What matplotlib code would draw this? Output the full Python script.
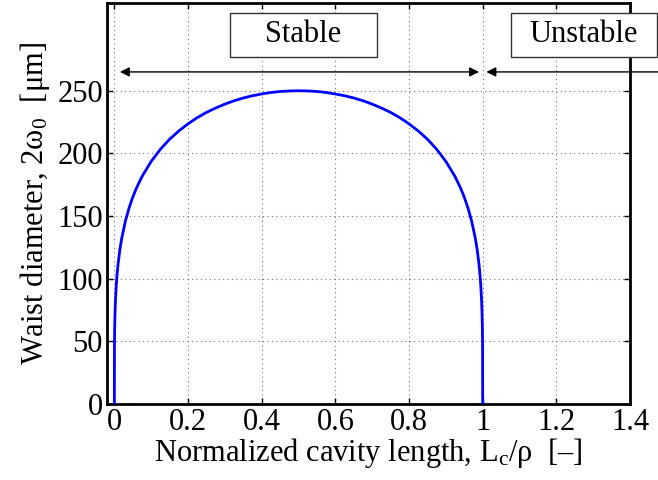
import matplotlib
matplotlib.use('Agg')
import matplotlib.pyplot as plt
from matplotlib.patches import Rectangle

plt.rcParams['font.family'] = ['Liberation Serif', 'DejaVu Serif']
plt.rcParams['mathtext.fontset'] = 'custom'
plt.rcParams['mathtext.rm'] = 'Liberation Serif'
plt.rcParams['mathtext.it'] = 'Liberation Serif:italic'

# normalized cavity length vs. waist diameter (um)
lc_norm = [0.0, 0.0002, 0.0005, 0.001, 0.002, 0.003, 0.005, 0.007, 0.01,
           0.015, 0.02, 0.03, 0.04, 0.05, 0.06, 0.075, 0.1, 0.125, 0.15,
           0.175, 0.2, 0.225, 0.25, 0.275, 0.3, 0.325, 0.35, 0.375, 0.4,
           0.425, 0.45, 0.475, 0.5, 0.525, 0.55, 0.575, 0.6, 0.625, 0.65,
           0.675, 0.7, 0.725, 0.75, 0.775, 0.8, 0.825, 0.85, 0.875, 0.9,
           0.925, 0.94, 0.95, 0.96, 0.97, 0.98, 0.985, 0.99, 0.993, 0.995,
           0.997, 0.998, 0.999, 0.9995, 0.9998, 1.0]
waist = [0, 42.0, 52.9, 63.2, 74.7, 82.7, 93.9, 102.1, 111.5,
         123.3, 132.3, 146.0, 156.5, 165.1, 172.3, 181.5, 193.6, 203.3, 211.3,
         217.9, 223.6, 228.5, 232.7, 236.2, 239.3, 242.0, 244.2, 246.0, 247.4,
         248.6, 249.4, 249.8, 250.0, 249.8, 249.4, 248.6, 247.4, 246.0, 244.2,
         242.0, 239.3, 236.2, 232.7, 228.5, 223.6, 217.9, 211.3, 203.3, 193.6,
         181.5, 172.3, 165.1, 156.5, 146.0, 132.3, 123.3, 111.5, 102.1, 93.9,
         82.7, 74.7, 63.2, 52.9, 42.0, 0]

xticks = [0, 0.2, 0.4, 0.6, 0.8, 1, 1.2, 1.4]
xticklabels = ['0', '0.2', '0.4', '0.6', '0.8', '1', '1.2', '1.4']
yticks = [0, 50, 100, 150, 200, 250]

fs = 22
fig = plt.figure(figsize=(6.58, 4.8), dpi=100)
ax = fig.add_axes([107 / 658, 76 / 480, 523 / 658, 401 / 480])

ax.plot(lc_norm, waist, color=(0, 0, 1), lw=2, zorder=3)

ax.set_xlim(-0.02, 1.4)
ax.set_ylim(0, 320)
ax.set_xticks(xticks)
ax.set_xticklabels(xticklabels)
ax.set_yticks(yticks)
ax.tick_params(direction='in', length=4, width=1, top=True, right=True,
               labelsize=fs, pad=3)
for s in ax.spines.values():
    s.set_linewidth(2)
ax.grid(True, linestyle=(0, (1, 3)), color='0.45', lw=0.8)

ax.set_xlabel('Normalized cavity length, L$_\\mathrm{c}$/ρ  [–]', fontsize=fs,
              labelpad=-1)
ax.set_ylabel('Waist diameter, 2ω$_\\mathrm{0}$  [μm]', fontsize=fs, labelpad=4)

# stable / unstable region arrows
arrow_y = 265
ax.annotate('', xy=(0.015, arrow_y), xytext=(0.99, arrow_y),
            arrowprops=dict(arrowstyle='<|-|>', color='k', lw=1,
                            mutation_scale=14, shrinkA=0, shrinkB=0),
            annotation_clip=False)
ax.annotate('', xy=(1.01, arrow_y), xycoords='data',
            xytext=(1.0, arrow_y), textcoords=('figure fraction', 'data'),
            arrowprops=dict(arrowstyle='-|>', color='k', lw=1,
                            mutation_scale=14, shrinkA=0, shrinkB=0),
            annotation_clip=False)

# labelled boxes
for label, x0, w in [('Stable', 230, 147), ('Unstable', 511, 146)]:
    fig.patches.append(Rectangle((x0 / 658, 423 / 480), w / 658, 44 / 480,
                                 transform=fig.transFigure, facecolor='white',
                                 edgecolor='0.2', lw=1, zorder=5))
    fig.text((x0 + w / 2) / 658, 445 / 480, label, fontsize=fs,
             ha='center', va='center', zorder=6)

fig.savefig('out.png', dpi=100)
